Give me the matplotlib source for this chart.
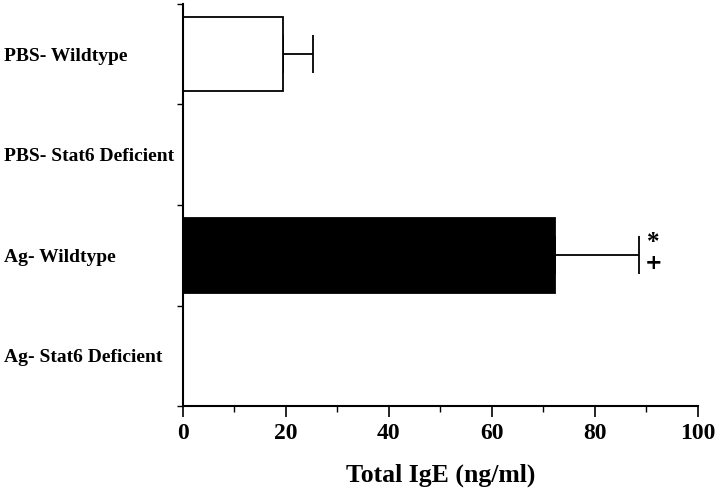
import numpy as np
import matplotlib
matplotlib.use("Agg")
import matplotlib.pyplot as plt

# data
groups = ["PBS- Wildtype", "PBS- Stat6 Deficient", "Ag- Wildtype", "Ag- Stat6 Deficient"]
ige = [19.4, 0.0, 72.3, 0.0]
ige_err = [5.9, 0.0, 16.3, 0.0]
bar_colors = ["white", "white", "black", "white"]

plt.rcParams['font.family'] = ['Liberation Serif', 'DejaVu Serif']
plt.rcParams['font.weight'] = 'bold'

fig = plt.figure(figsize=(7.2, 4.9), dpi=100)
ax = fig.add_axes([0.254, 0.171, 0.715, 0.821])

pos = np.arange(len(groups))
for i in range(len(groups)):
    if ige[i] > 0:
        ax.barh(pos[i], ige[i], height=0.74, color=bar_colors[i],
                edgecolor='black', linewidth=1.3, zorder=2)
        ax.errorbar(ige[i], pos[i], xerr=[[0], [ige_err[i]]], fmt='none',
                    ecolor='black', elinewidth=1.3, capsize=13.5,
                    capthick=1.3, zorder=1)

# significance marks next to the Ag- Wildtype error bar
ag = 2
ax.annotate("*", (ige[ag] + ige_err[ag], pos[ag]), xytext=(6, 1),
            textcoords='offset points', ha='left', va='bottom', fontsize=18)
ax.annotate("+", (ige[ag] + ige_err[ag], pos[ag]), xytext=(4, 2),
            textcoords='offset points', ha='left', va='top', fontsize=15,
            family='DejaVu Sans')

ax.set_xlim(0, 100)
ax.set_ylim(3.5, -0.5)
ax.set_xticks(np.arange(0, 101, 20))
ax.set_xticks(np.arange(0, 101, 10), minor=True)
ax.tick_params(axis='x', which='major', length=8, width=1.2, labelsize=17, pad=4)
ax.tick_params(axis='x', which='minor', length=4, width=1.0)

ax.set_yticks(pos)
ax.set_yticklabels(groups, ha='left', fontsize=14)
ax.set_yticks([-0.5, 0.5, 1.5, 2.5, 3.5], minor=True)
ax.tick_params(axis='y', which='major', length=0, pad=129)
ax.tick_params(axis='y', which='minor', length=4, width=1.0)

for side in ['top', 'right']:
    ax.spines[side].set_visible(False)
for side in ['left', 'bottom']:
    ax.spines[side].set_linewidth(1.5)

ax.set_xlabel("Total IgE (ng/ml)", fontsize=18.5, fontweight='bold', labelpad=14)

fig.savefig("out.png", dpi=100)
